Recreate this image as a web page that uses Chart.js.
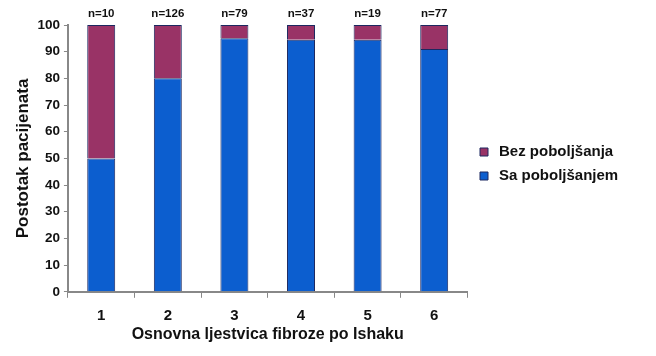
<!DOCTYPE html>
<html><head><meta charset="utf-8">
<script src="https://cdn.jsdelivr.net/npm/chart.js@4/dist/chart.umd.min.js"></script>
<style>html,body{margin:0;padding:0;background:#fff}#wrap{width:656px;height:356px}</style>
</head><body><div id="wrap"><canvas id="c" width="656" height="356"></canvas></div>
<script>
const categories = ['1','2','3','4','5','6'];
const improved = [50, 80, 95, 94.5, 94.5, 91];
const notImproved = [50, 20, 5, 5.5, 5.5, 9];
const nLabels = ['n=10','n=126','n=79','n=37','n=19','n=77'];
const yTicks = [0,10,20,30,40,50,60,70,80,90,100];

const FONT = 'Liberation Sans, Arial, sans-serif';
const nPlugin = {
  id:'nlabels',
  afterDatasetsDraw(chart){
    const {ctx, scales} = chart;
    ctx.save();
    ctx.font = 'bold 11.5px ' + FONT;
    ctx.fillStyle = '#111';
    ctx.textAlign = 'center';
    ctx.textBaseline = 'bottom';
    nLabels.forEach((t,i)=>{
      ctx.fillText(t, scales.x.getPixelForValue(i), scales.y.getPixelForValue(100) - 5);
    });
    ctx.restore();
  }
};

new Chart(document.getElementById('c'), {
  type:'bar',
  data:{
    labels:categories,
    datasets:[
      {label:'Sa poboljšanjem', data:improved, backgroundColor:'#0c5ecf', borderColor:'#1c2860', borderWidth:1},
      {label:'Bez poboljšanja', data:notImproved, backgroundColor:'#993366', borderColor:'#1c2860', borderWidth:1}
    ]
  },
  options:{
    responsive:false, animation:false,
    layout:{padding:{top:25,right:36,left:10,bottom:12}},
    datasets:{bar:{categoryPercentage:1, barPercentage:0.42}},
    plugins:{
      legend:{position:'right', reverse:true, fullSize:false,
        title:{display:true, text:' ', font:{size:6}, padding:2},
        labels:{usePointStyle:true, pointStyle:'rect', boxWidth:20, boxHeight:8, padding:9, color:'#111', font:{family:FONT, size:15, weight:'bold'}}},
      tooltip:{enabled:false}
    },
    scales:{
      x:{stacked:true,
        grid:{display:true, drawOnChartArea:false, drawTicks:true, tickLength:6, color:'#888', offset:true},
        border:{display:true, color:'#888', width:2},
        ticks:{color:'#111', font:{family:FONT, size:15, weight:'bold'}, padding:9.5},
        title:{display:true, text:'Osnovna ljestvica fibroze po Ishaku', color:'#111', font:{family:FONT, size:16, weight:'bold'}, padding:{top:-10, bottom:0}}
      },
      y:{stacked:true, min:0, max:100,
        afterBuildTicks(axis){ axis.ticks = yTicks.map(v=>({value:v})); },
        grid:{display:true, drawOnChartArea:false, drawTicks:true, tickLength:4, color:'#888'},
        border:{display:true, color:'#888', width:2},
        ticks:{color:'#111', font:{family:FONT, size:13.5, weight:'bold'}, padding:4},
        title:{display:true, text:'Postotak pacijenata', color:'#111', font:{family:FONT, size:17, weight:'bold'}, padding:{top:3, bottom:0}}
      }
    }
  },
  plugins:[nPlugin]
});
</script></body></html>
